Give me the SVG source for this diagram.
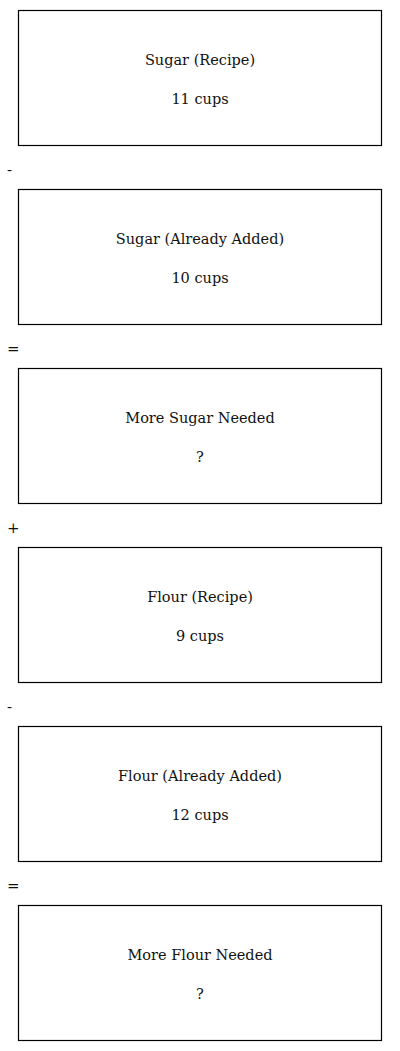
<svg xmlns="http://www.w3.org/2000/svg" width="400" height="1051" viewBox="0 0 400 1051">
<style>
.box{fill:#fff;stroke:#000;stroke-width:1.2}
.t{font-family:"DejaVu Serif","Liberation Serif",serif;font-size:14.5px;fill:#111;text-anchor:middle}
.op{font-family:"DejaVu Serif","Liberation Serif",serif;font-size:15px;fill:#111}
</style>
<rect width="400" height="1051" fill="#fff"/>
<g id="connectors">
<text class="op" x="7" y="175">-</text>
<text class="op" x="7" y="354">=</text>
<text class="op" x="7" y="533">+</text>
<text class="op" x="7" y="712">-</text>
<text class="op" x="7" y="891">=</text>
</g>
<g id="node1"><rect class="box" x="18.5" y="10.5" width="363" height="135"/><text class="t" x="200" y="65">Sugar (Recipe)</text><text class="t" x="200" y="104">11 cups</text></g>
<g id="node2"><rect class="box" x="18.5" y="189.5" width="363" height="135"/><text class="t" x="200" y="244">Sugar (Already Added)</text><text class="t" x="200" y="283">10 cups</text></g>
<g id="node3"><rect class="box" x="18.5" y="368.5" width="363" height="135"/><text class="t" x="200" y="423">More Sugar Needed</text><text class="t" x="200" y="462">?</text></g>
<g id="node4"><rect class="box" x="18.5" y="547.5" width="363" height="135"/><text class="t" x="200" y="602">Flour (Recipe)</text><text class="t" x="200" y="641">9 cups</text></g>
<g id="node5"><rect class="box" x="18.5" y="726.5" width="363" height="135"/><text class="t" x="200" y="781">Flour (Already Added)</text><text class="t" x="200" y="820">12 cups</text></g>
<g id="node6"><rect class="box" x="18.5" y="905.5" width="363" height="135"/><text class="t" x="200" y="960">More Flour Needed</text><text class="t" x="200" y="999">?</text></g>
</svg>
